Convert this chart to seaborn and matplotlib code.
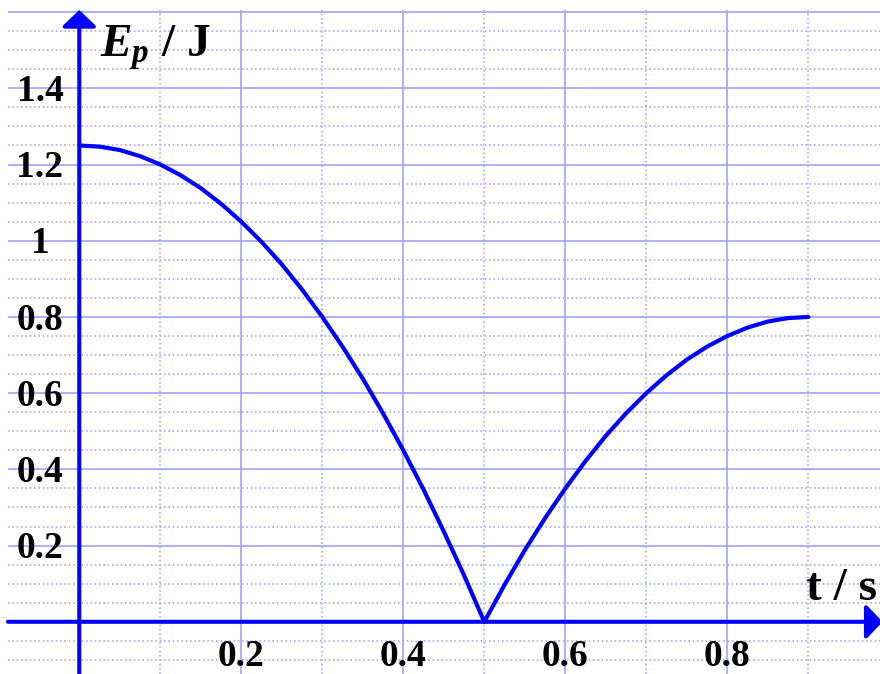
import matplotlib
matplotlib.use('Agg')
import matplotlib.pyplot as plt
import seaborn as sns
from matplotlib.ticker import MultipleLocator

# Ep(t), every 0.025 s
t_s = [0.0, 0.025, 0.05, 0.075, 0.1, 0.125, 0.15, 0.175, 0.2, 0.225,
       0.25, 0.275, 0.3, 0.325, 0.35, 0.375, 0.4, 0.425, 0.45, 0.475,
       0.5, 0.525, 0.55, 0.575, 0.6, 0.625, 0.65, 0.675, 0.7, 0.725,
       0.75, 0.775, 0.8, 0.825, 0.85, 0.875, 0.9]
ep_j = [1.25, 1.247, 1.238, 1.222, 1.2, 1.172, 1.138, 1.097, 1.05, 0.997,
        0.938, 0.872, 0.8, 0.722, 0.638, 0.547, 0.45, 0.347, 0.237, 0.122,
        0.0, 0.097, 0.188, 0.272, 0.35, 0.422, 0.488, 0.547, 0.6, 0.647,
        0.688, 0.722, 0.75, 0.772, 0.788, 0.797, 0.8]

x_tick_vals = [0.2, 0.4, 0.6, 0.8]
x_tick_labels = ['0.2', '0.4', '0.6', '0.8']
y_tick_vals = [0.2, 0.4, 0.6, 0.8, 1.0, 1.2, 1.4]
y_tick_labels = ['0.2', '0.4', '0.6', '0.8', '1', '1.2', '1.4']

sns.set_style('white')
plt.rcParams['font.family'] = ['Liberation Serif', 'DejaVu Serif']
plt.rcParams['text.color'] = 'black'
plt.rcParams['mathtext.fontset'] = 'custom'
plt.rcParams['mathtext.it'] = 'Liberation Serif:italic:bold'
plt.rcParams['mathtext.rm'] = 'Liberation Serif:bold'

BLUE = '#0000ff'
GRID = '#a8a8ff'

fig = plt.figure(figsize=(8.8, 6.74), dpi=100)
ax = fig.add_axes([8 / 880, 0, 872 / 880, 664 / 674])
ax.set_xlim(-0.088, 0.9885)
ax.set_ylim(-0.137, 1.6055)

# millimetre-paper style grid
ax.xaxis.set_major_locator(MultipleLocator(0.2))
ax.xaxis.set_minor_locator(MultipleLocator(0.1))
ax.yaxis.set_major_locator(MultipleLocator(0.2))
ax.yaxis.set_minor_locator(MultipleLocator(0.05))
ax.grid(which='major', color=GRID, lw=1.3, ls='-')
ax.grid(which='minor', color=GRID, lw=1.2, ls=(0, (1, 1.6)))
ax.tick_params(which='both', length=0, labelbottom=False, labelleft=False)
for sp in ax.spines.values():
    sp.set_visible(False)
ax.set_axisbelow(True)

# axes with arrow heads
arrow = dict(arrowstyle='-|>,head_length=1.0,head_width=1.05', color=BLUE,
             lw=2.9, mutation_scale=10, shrinkA=0, shrinkB=0)
ax.annotate('', xy=(0, 1), xycoords=('data', 'axes fraction'),
            xytext=(0, 0), textcoords=('data', 'axes fraction'),
            arrowprops=arrow, annotation_clip=False)
ax.annotate('', xy=(1.003, 0), xycoords=('axes fraction', 'data'),
            xytext=(0, 0), textcoords=('axes fraction', 'data'),
            arrowprops=arrow, annotation_clip=False)

sns.lineplot(x=t_s, y=ep_j, ax=ax, color=BLUE, lw=3, sort=False,
             estimator=None, zorder=5)

for v, lab in zip(y_tick_vals, y_tick_labels):
    ax.text(-0.0485, v - 0.0335, lab, ha='center', va='baseline',
            fontsize=27, fontweight='bold', color='black')
for v, lab in zip(x_tick_vals, x_tick_labels):
    ax.text(v, -0.1163, lab, ha='center', va='baseline',
            fontsize=27, fontweight='bold', color='black')

ax.text(0.026, 1.482, r'$E_p$ / J', ha='left', va='baseline',
        fontsize=34, fontweight='bold', color='black')
ax.text(0.985, 0.057, 't / s', ha='right', va='baseline',
        fontsize=34, fontweight='bold', color='black')

fig.savefig('out.png', dpi=100)
